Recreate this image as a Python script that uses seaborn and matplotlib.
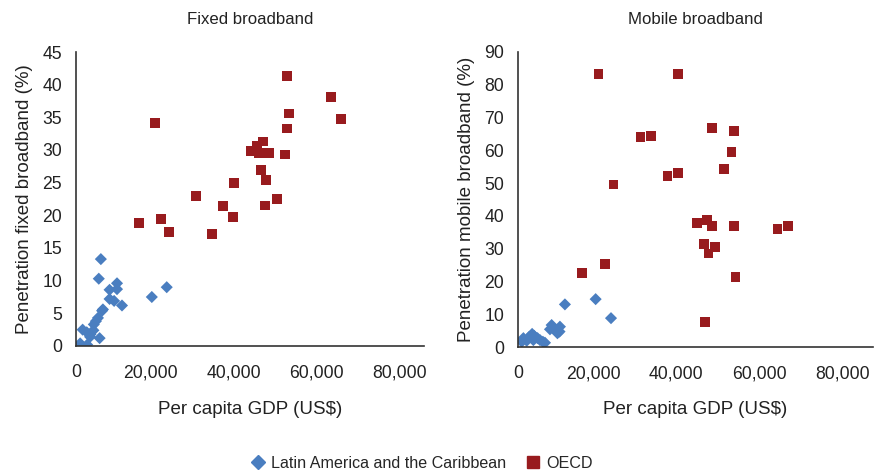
import pandas as pd
import matplotlib
matplotlib.use("Agg")
import matplotlib.pyplot as plt
import seaborn as sns
from matplotlib.ticker import FuncFormatter
from matplotlib.lines import Line2D
from matplotlib.transforms import ScaledTranslation

# Fixed broadband data
fixed_lac_gdp = [6000, 5500, 9900, 8100, 9900, 21900, 18300, 8100, 9200, 11100, 6500, 6300,
                 5300, 4800, 4300, 1600, 2600, 3500, 4200, 5700, 3400, 1000, 2700]
fixed_lac_pen = [13.3, 10.3, 9.6, 8.6, 8.7, 9.0, 7.5, 7.2, 6.9, 6.2, 5.6, 5.4,
                 4.3, 3.8, 3.3, 2.5, 2.1, 1.8, 2.4, 1.2, 1.4, 0.4, 0.2]
fixed_oecd_gdp = [50900, 61500, 63900, 51400, 50900, 19100, 45100, 43700, 42200, 44200, 46600, 50400,
                  44700, 45900, 38200, 29000, 48500, 35500, 45600, 37900, 15300, 20600, 22500, 32900]
fixed_oecd_pen = [41.3, 38.1, 34.7, 35.6, 33.3, 34.1, 31.3, 30.6, 29.8, 29.6, 29.6, 29.3,
                  27.0, 25.4, 24.9, 22.9, 22.5, 21.4, 21.5, 19.7, 18.8, 19.4, 17.4, 17.1]

# Mobile broadband data
mobile_lac_gdp = [18700, 11300, 22400, 8100, 10100, 7700, 8900, 10000, 9500, 3400, 3900, 2700,
                  4700, 1300, 5300, 2100, 6000, 900, 6500, 3700]
mobile_lac_pen = [14.6, 13.0, 8.8, 6.7, 6.2, 5.4, 5.2, 4.7, 4.2, 4.0, 3.4, 3.1,
                  2.7, 2.7, 2.1, 1.9, 1.6, 1.6, 1.3, 2.1]
mobile_oecd_gdp = [19400, 38600, 46800, 52100, 29500, 32100, 51400, 49700, 36000, 38600, 23000, 43200,
                   45600, 46800, 52100, 62500, 65100, 44700, 47500, 45900, 21000, 15500, 52400, 45100]
mobile_oecd_pen = [83.2, 83.2, 66.7, 65.8, 64.0, 64.3, 59.4, 54.2, 52.1, 53.0, 49.6, 37.9,
                   38.8, 37.0, 37.0, 36.1, 37.0, 31.5, 30.6, 28.5, 25.4, 22.7, 21.4, 7.7]

LAC = "Latin America and the Caribbean"
OECD = "OECD"
colors = {LAC: "#4A7EC0", OECD: "#981B1E"}
markers = {LAC: "D", OECD: "s"}

def make_df(lac_x, lac_y, oecd_x, oecd_y):
    return pd.concat([
        pd.DataFrame({"gdp": lac_x, "pen": lac_y, "group": LAC}),
        pd.DataFrame({"gdp": oecd_x, "pen": oecd_y, "group": OECD}),
    ], ignore_index=True)

fixed_df = make_df(fixed_lac_gdp, fixed_lac_pen, fixed_oecd_gdp, fixed_oecd_pen)
mobile_df = make_df(mobile_lac_gdp, mobile_lac_pen, mobile_oecd_gdp, mobile_oecd_pen)

sns.set_style("white")
plt.rcParams["font.family"] = ["Liberation Sans", "DejaVu Sans"]

fig = plt.figure(figsize=(8.77, 4.75), dpi=100)
ax1 = fig.add_axes([76/877, 129/475, 348/877, 294/475])
ax2 = fig.add_axes([518/877, 128/475, 355/877, 295/475])

panels = [
    (ax1, fixed_df, "Fixed broadband", "Penetration fixed broadband (%)", 45, 5, 84000),
    (ax2, mobile_df, "Mobile broadband", "Penetration mobile broadband (%)", 90, 10, 85500),
]

shift = ScaledTranslation(-8/100, 0, fig.dpi_scale_trans)

for ax, df, title, ylab, ymax, ystep, xmax in panels:
    for grp, size in [(LAC, 38), (OECD, 50)]:
        sub = df[df["group"] == grp]
        sns.scatterplot(data=sub, x="gdp", y="pen", ax=ax, color=colors[grp],
                        marker=markers[grp], s=size, edgecolor="none", linewidth=0,
                        legend=False)
    ax.set_xlim(0, xmax)
    ax.set_ylim(0, ymax)
    ax.set_xticks(range(0, 80001, 20000))
    ax.set_yticks(range(0, ymax + 1, ystep))
    ax.xaxis.set_major_formatter(FuncFormatter(lambda v, p: f"{int(v):,}"))
    ax.tick_params(axis="both", labelsize=12.7, length=0, colors="#222222")
    ax.tick_params(axis="x", pad=13)
    ax.tick_params(axis="y", pad=10)
    for lab in ax.get_xticklabels()[1:]:
        lab.set_transform(lab.get_transform() + shift)
    ax.set_title(title, fontsize=12.1, pad=20.5, color="#222222")
    ax.set_xlabel("Per capita GDP (US$)", fontsize=13.5, labelpad=14, color="#222222")
    ax.set_ylabel(ylab, fontsize=13.5, labelpad=7, color="#222222")
    for side in ["top", "right"]:
        ax.spines[side].set_visible(False)
    for side in ["left", "bottom"]:
        ax.spines[side].set_color("#333333")
        ax.spines[side].set_linewidth(1.2)

handles = [
    Line2D([], [], marker="D", color=colors[LAC], linestyle="none", markersize=7),
    Line2D([], [], marker="s", color=colors[OECD], linestyle="none", markersize=8),
]
fig.legend(handles, [LAC, OECD], loc="center", bbox_to_anchor=(0.481, 12/475), ncol=2,
           frameon=False, fontsize=11.6, handlelength=0.8, handletextpad=0.4,
           columnspacing=1.3)

fig.savefig("out.png", dpi=100)
